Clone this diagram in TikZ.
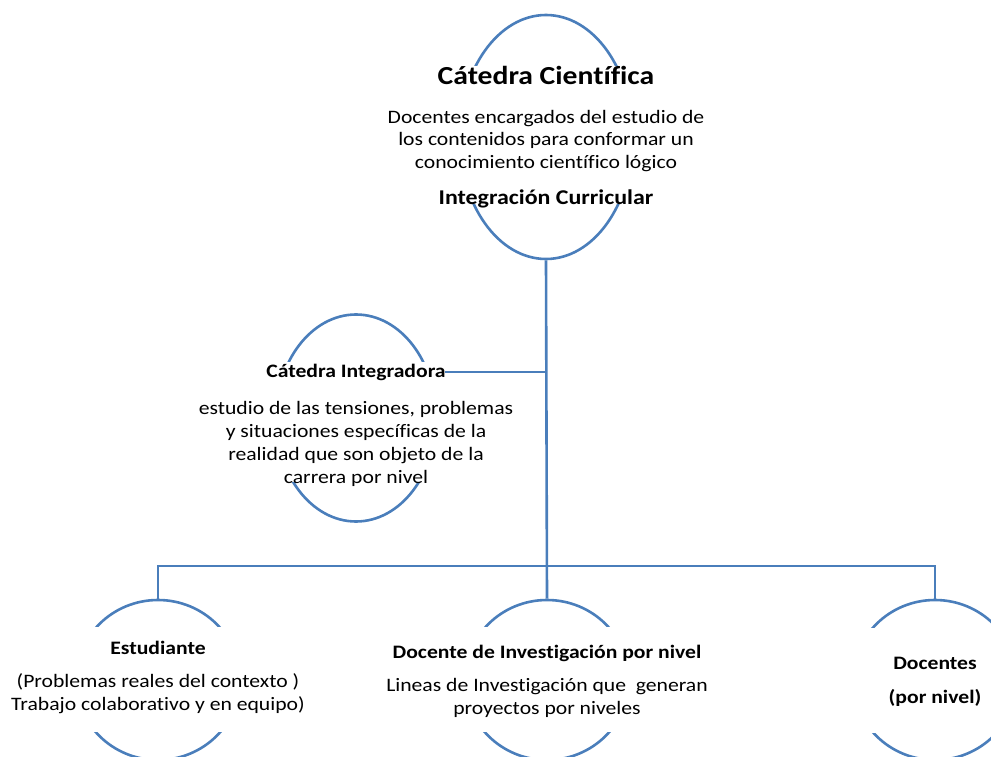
\documentclass[tikz,border=0pt]{standalone}
\usepackage{fontspec}
\setmainfont{Carlito}[FakeStretch = 1.14, Ligatures = NoCommon]
\usepackage{tikz}
\usetikzlibrary{shapes.geometric}
\definecolor{azul}{RGB}{74,126,187}
\newcommand{\tam}[1]{\fontsize{#1}{0}\selectfont\lineskiplimit=-100pt\relax}

\tikzset{
	elipse/.style = {ellipse, draw = azul, line width = 2.6pt, inner sep = 0pt},
	fondo/.style = {fill = white, inner sep = 0pt},
	texto/.style = {align = center, inner sep = 0pt, font = \tam{19}},
	rama/.style = {azul, line width = 2.6pt}
}

\begin{document}
\begin{tikzpicture} [x = 1pt, y = -1pt]
	\useasboundingbox (0,0) rectangle (991,757);
	\clip (0,0) rectangle (991,757);
	% elipses
	\node [elipse, minimum width = 173, minimum height = 244] (cient) at (546,137) {};
	\node [elipse, minimum width = 160, minimum height = 207] (integ) at (356,418) {};
	\node [elipse, minimum width = 164, minimum height = 160] (estud) at (158,680) {};
	\node [elipse, minimum width = 164, minimum height = 160] (invest) at (547,680) {};
	\node [elipse, minimum width = 164, minimum height = 160] (doc) at (935,680) {};
	% fondo blanco de los textos
	\node [fondo, minimum width = 180, minimum height = 138] (cientF) at (546,135) {};
	\node [fondo, minimum width = 166, minimum height = 120] (integF) at (356,422) {};
	\node [fondo, minimum width = 170, minimum height = 105] (estudF) at (158,679.5) {};
	\node [fondo, minimum width = 170, minimum height = 105] (investF) at (547,679.5) {};
	\node [fondo, minimum width = 170, minimum height = 105] (docF) at (935,680) {};
	% textos
	\node [texto] (cientT) at (546,137) {{\tam{26}\bfseries Cátedra Científica}\\[39pt]
		Docentes encargados del estudio de\\[22.5pt]
		los contenidos para conformar un\\[22.5pt]
		conocimiento científico lógico\\[36.5pt]
		{\tam{21}\bfseries Integración Curricular}};
	\node [texto] (integT) at (356,425) {{\bfseries Cátedra Integradora}\\[37pt]
		estudio de las tensiones, problemas\\[23pt]
		y situaciones específicas de la\\[23pt]
		realidad que son objeto de la\\[23pt]
		carrera por nivel};
	\node [texto] (estudT) at (158,677) {{\bfseries Estudiante}\\[33pt]
		(Problemas reales del contexto )\\[23pt]
		Trabajo colaborativo y en equipo)};
	\node [texto] (investT) at (547,681) {{\bfseries Docente de Investigación por nivel}\\[33pt]
		Lineas de Investigación que\ \ generan\\[23pt]
		proyectos por niveles};
	\node [texto] (docT) at (935,682) {{\bfseries Docentes}\\[34pt]
		{\bfseries (por nivel)}};
	% conexiones
	\coordinate (bus) at (546,566);
	\coordinate (integH) at (445,372);
	\draw [rama] (cient.south) -- (invest.north);
	\draw [rama] (estud.north) |- (bus) -| (doc.north);
	\draw [rama] (integH) -- (integH -| cient.south);
\end{tikzpicture}
\end{document}
